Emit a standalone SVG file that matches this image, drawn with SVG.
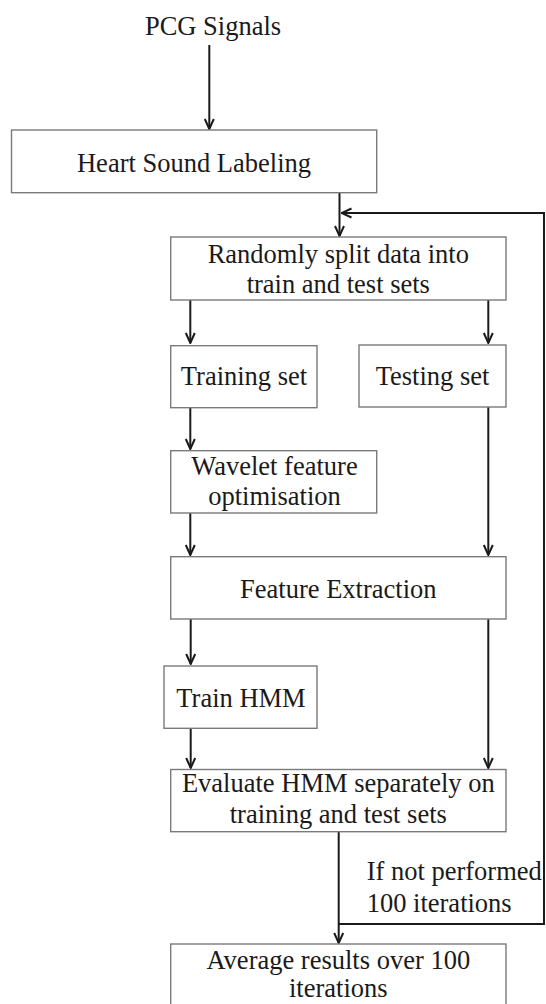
<svg xmlns="http://www.w3.org/2000/svg" width="546" height="1004" viewBox="0 0 546 1004">
<style>
.box{fill:#fff;stroke:#7a7a7a;stroke-width:1.4}
.t{font-family:"Liberation Serif","Times New Roman",serif;font-size:26.5px;fill:#1a1a1a;text-anchor:middle}
.ts{font-family:"Liberation Serif","Times New Roman",serif;font-size:26.5px;fill:#1a1a1a}
.c{fill:none;stroke:#1a1a1a;stroke-width:2}
</style>
<defs>
<marker id="arr" viewBox="0 0 12 12" refX="11" refY="6" markerWidth="12" markerHeight="12" markerUnits="userSpaceOnUse" orient="auto">
<path d="M1,1.5 L11,6 L1,10.5" fill="none" stroke="#1a1a1a" stroke-width="2"/>
</marker>
</defs>
<rect width="546" height="1004" fill="#fff"/>
<g id="connectors">
<line class="c" x1="209.3" y1="45" x2="209.3" y2="129" marker-end="url(#arr)"/>
<line class="c" x1="339.5" y1="193" x2="339.5" y2="236" marker-end="url(#arr)"/>
<polyline class="c" points="338.7,924 544,924 544,213 341.5,213" marker-end="url(#arr)"/>
<line class="c" x1="190.3" y1="300" x2="190.3" y2="343" marker-end="url(#arr)"/>
<line class="c" x1="488.3" y1="300" x2="488.3" y2="343" marker-end="url(#arr)"/>
<line class="c" x1="190.3" y1="408" x2="190.3" y2="449" marker-end="url(#arr)"/>
<line class="c" x1="190.3" y1="513" x2="190.3" y2="555" marker-end="url(#arr)"/>
<line class="c" x1="488.3" y1="407" x2="488.3" y2="555" marker-end="url(#arr)"/>
<line class="c" x1="190.7" y1="619" x2="190.7" y2="664" marker-end="url(#arr)"/>
<line class="c" x1="190.7" y1="728" x2="190.7" y2="768" marker-end="url(#arr)"/>
<line class="c" x1="488.3" y1="619" x2="488.3" y2="768" marker-end="url(#arr)"/>
<line class="c" x1="338.7" y1="832" x2="338.7" y2="943" marker-end="url(#arr)"/>
</g>
<g id="pcg"><text class="t" x="213" y="35">PCG Signals</text></g>
<g id="hsl"><rect class="box" x="11.5" y="130" width="365.2" height="62.7"/><text class="t" x="194" y="172">Heart Sound Labeling</text></g>
<g id="split"><rect class="box" x="170.7" y="237" width="335.3" height="63"/><text class="t" x="338.3" y="263">Randomly split data into</text><text class="t" x="338.3" y="293">train and test sets</text></g>
<g id="train"><rect class="box" x="170.7" y="345.7" width="146.3" height="62"/><text class="t" x="244" y="385">Training set</text></g>
<g id="test"><rect class="box" x="359" y="345" width="147" height="62"/><text class="t" x="432.5" y="385">Testing set</text></g>
<g id="wavelet"><rect class="box" x="170.7" y="450.7" width="206" height="62.3"/><text class="t" x="274.5" y="475">Wavelet feature</text><text class="t" x="274.5" y="505">optimisation</text></g>
<g id="fe"><rect class="box" x="170.7" y="556.7" width="335.3" height="62.3"/><text class="t" x="338.3" y="598">Feature Extraction</text></g>
<g id="hmm"><rect class="box" x="164" y="666" width="153" height="62.3"/><text class="t" x="241" y="707">Train HMM</text></g>
<g id="eval"><rect class="box" x="170.7" y="769.5" width="335.3" height="62.2"/><text class="t" x="338.3" y="792">Evaluate HMM separately on</text><text class="t" x="338.3" y="823">training and test sets</text></g>
<g id="cond"><text class="ts" x="366.7" y="880">If not performed</text><text class="ts" x="366.7" y="912">100 iterations</text></g>
<g id="avg"><rect class="box" x="170.7" y="944" width="335.3" height="70"/><text class="t" x="338.3" y="969">Average results over 100</text><text class="t" x="338.3" y="997">iterations</text></g>
</svg>
